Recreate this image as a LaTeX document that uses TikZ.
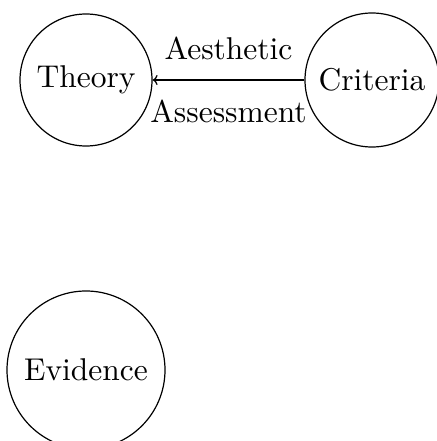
\documentclass[tikz,border=0pt]{standalone}
\usepackage{fontspec}
\setmainfont{lmroman10-regular.otf}
\usetikzlibrary{arrows.meta}
\begin{document}
\begin{tikzpicture}[x=1pt,y=-1pt,
  every node/.style={font=\fontsize{31.5}{38}\selectfont},
  ent/.style={draw, circle, line width=1.2pt, inner sep=0pt},
  lbl/.style={anchor=base, inner sep=0pt},
  conn/.style={-{To[length=5pt, width=10pt]}, line width=1.2pt}]
\useasboundingbox (0,0) rectangle (436,441);
\node[ent, minimum size=132pt] (theory) at (86,80) {Theory};
\node[ent, minimum size=134pt] (crit) at (372,80) {Criteria};
\node[ent, minimum size=158pt] (evid) at (86,370) {Evidence};
\draw[conn] (crit) -- (theory);
\node[lbl] (aes) at (228.5,60) {Aesthetic};
\node[lbl] (ass) at (228.5,122) {Assessment};
\end{tikzpicture}
\end{document}
